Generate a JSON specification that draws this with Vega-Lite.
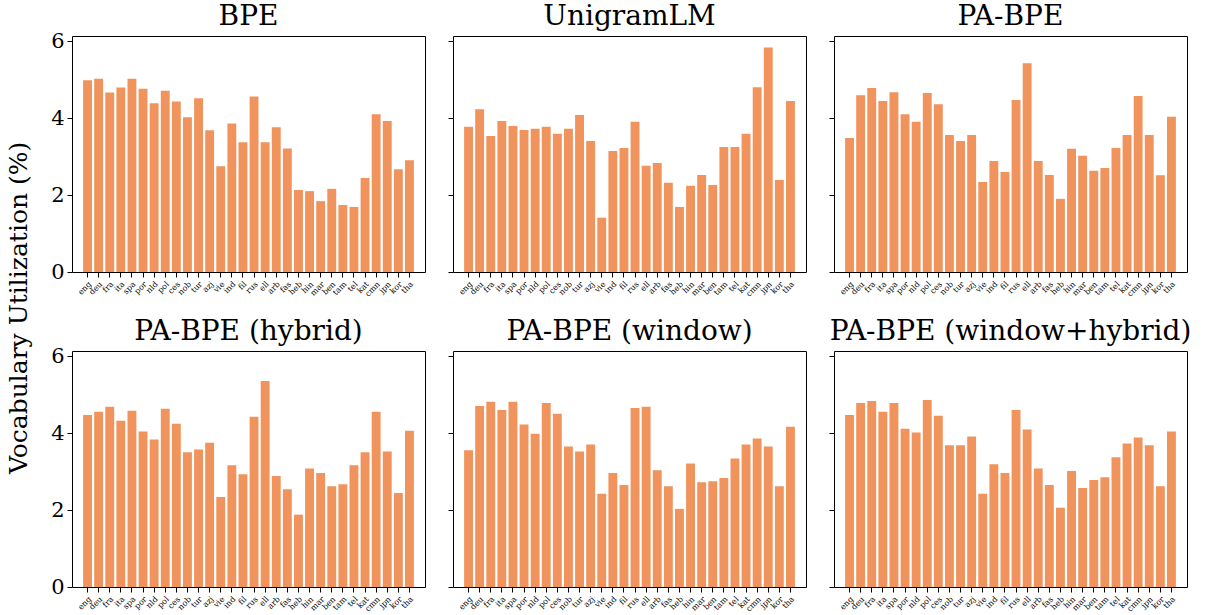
{
  "$schema": "https://vega.github.io/schema/vega-lite/v6.json",
  "padding": {"left": 7, "top": 2, "right": 5, "bottom": 5},
  "title": {"text": "Vocabulary Utilization (%)", "orient": "left", "anchor": "middle", "fontSize": 25, "font": "DejaVu Serif", "fontWeight": "normal", "color": "black", "offset": 18},
  "config": {
    "view": {"stroke": "black", "strokeWidth": 1},
    "font": "DejaVu Serif",
    "axis": {"grid": false, "domain": false, "tickColor": "black", "labelColor": "black", "tickSize": 5, "labelPadding": 3, "labelFont": "DejaVu Serif"},
    "title": {"fontSize": 28, "font": "DejaVu Serif", "fontWeight": "normal", "color": "black", "offset": 5, "baseline": "alphabetic"},
    "bar": {"color": "#f0935c"}
  },
  "data": {"values": [
    {"m":"BPE","l":"eng","v":4.98},{"m":"BPE","l":"deu","v":5.02},{"m":"BPE","l":"fra","v":4.66},{"m":"BPE","l":"ita","v":4.79},{"m":"BPE","l":"spa","v":5.02},{"m":"BPE","l":"por","v":4.76},{"m":"BPE","l":"nld","v":4.38},{"m":"BPE","l":"pol","v":4.71},{"m":"BPE","l":"ces","v":4.43},{"m":"BPE","l":"nob","v":4.02},{"m":"BPE","l":"tur","v":4.51},{"m":"BPE","l":"azj","v":3.68},{"m":"BPE","l":"vie","v":2.75},{"m":"BPE","l":"ind","v":3.86},{"m":"BPE","l":"fil","v":3.37},{"m":"BPE","l":"rus","v":4.56},{"m":"BPE","l":"ell","v":3.37},{"m":"BPE","l":"arb","v":3.76},{"m":"BPE","l":"fas","v":3.21},{"m":"BPE","l":"heb","v":2.13},{"m":"BPE","l":"hin","v":2.1},{"m":"BPE","l":"mar","v":1.84},{"m":"BPE","l":"ben","v":2.16},{"m":"BPE","l":"tam","v":1.74},{"m":"BPE","l":"tel","v":1.69},{"m":"BPE","l":"kat","v":2.44},{"m":"BPE","l":"cmn","v":4.1},{"m":"BPE","l":"jpn","v":3.92},{"m":"BPE","l":"kor","v":2.67},{"m":"BPE","l":"tha","v":2.9},
    {"m":"UnigramLM","l":"eng","v":3.77},{"m":"UnigramLM","l":"deu","v":4.23},{"m":"UnigramLM","l":"fra","v":3.53},{"m":"UnigramLM","l":"ita","v":3.92},{"m":"UnigramLM","l":"spa","v":3.79},{"m":"UnigramLM","l":"por","v":3.69},{"m":"UnigramLM","l":"nld","v":3.72},{"m":"UnigramLM","l":"pol","v":3.77},{"m":"UnigramLM","l":"ces","v":3.59},{"m":"UnigramLM","l":"nob","v":3.72},{"m":"UnigramLM","l":"tur","v":4.08},{"m":"UnigramLM","l":"azj","v":3.4},{"m":"UnigramLM","l":"vie","v":1.41},{"m":"UnigramLM","l":"ind","v":3.14},{"m":"UnigramLM","l":"fil","v":3.22},{"m":"UnigramLM","l":"rus","v":3.9},{"m":"UnigramLM","l":"ell","v":2.76},{"m":"UnigramLM","l":"arb","v":2.83},{"m":"UnigramLM","l":"fas","v":2.32},{"m":"UnigramLM","l":"heb","v":1.69},{"m":"UnigramLM","l":"hin","v":2.24},{"m":"UnigramLM","l":"mar","v":2.52},{"m":"UnigramLM","l":"ben","v":2.26},{"m":"UnigramLM","l":"tam","v":3.25},{"m":"UnigramLM","l":"tel","v":3.25},{"m":"UnigramLM","l":"kat","v":3.59},{"m":"UnigramLM","l":"cmn","v":4.8},{"m":"UnigramLM","l":"jpn","v":5.83},{"m":"UnigramLM","l":"kor","v":2.39},{"m":"UnigramLM","l":"tha","v":4.44},
    {"m":"PA-BPE","l":"eng","v":3.48},{"m":"PA-BPE","l":"deu","v":4.59},{"m":"PA-BPE","l":"fra","v":4.78},{"m":"PA-BPE","l":"ita","v":4.44},{"m":"PA-BPE","l":"spa","v":4.67},{"m":"PA-BPE","l":"por","v":4.1},{"m":"PA-BPE","l":"nld","v":3.9},{"m":"PA-BPE","l":"pol","v":4.65},{"m":"PA-BPE","l":"ces","v":4.36},{"m":"PA-BPE","l":"nob","v":3.56},{"m":"PA-BPE","l":"tur","v":3.4},{"m":"PA-BPE","l":"azj","v":3.56},{"m":"PA-BPE","l":"vie","v":2.34},{"m":"PA-BPE","l":"ind","v":2.88},{"m":"PA-BPE","l":"fil","v":2.6},{"m":"PA-BPE","l":"rus","v":4.47},{"m":"PA-BPE","l":"ell","v":5.42},{"m":"PA-BPE","l":"arb","v":2.88},{"m":"PA-BPE","l":"fas","v":2.52},{"m":"PA-BPE","l":"heb","v":1.9},{"m":"PA-BPE","l":"hin","v":3.2},{"m":"PA-BPE","l":"mar","v":3.02},{"m":"PA-BPE","l":"ben","v":2.63},{"m":"PA-BPE","l":"tam","v":2.7},{"m":"PA-BPE","l":"tel","v":3.22},{"m":"PA-BPE","l":"kat","v":3.56},{"m":"PA-BPE","l":"cmn","v":4.57},{"m":"PA-BPE","l":"jpn","v":3.56},{"m":"PA-BPE","l":"kor","v":2.51},{"m":"PA-BPE","l":"tha","v":4.03},
    {"m":"PA-BPE (hybrid)","l":"eng","v":4.47},{"m":"PA-BPE (hybrid)","l":"deu","v":4.55},{"m":"PA-BPE (hybrid)","l":"fra","v":4.68},{"m":"PA-BPE (hybrid)","l":"ita","v":4.32},{"m":"PA-BPE (hybrid)","l":"spa","v":4.58},{"m":"PA-BPE (hybrid)","l":"por","v":4.04},{"m":"PA-BPE (hybrid)","l":"nld","v":3.83},{"m":"PA-BPE (hybrid)","l":"pol","v":4.63},{"m":"PA-BPE (hybrid)","l":"ces","v":4.24},{"m":"PA-BPE (hybrid)","l":"nob","v":3.5},{"m":"PA-BPE (hybrid)","l":"tur","v":3.57},{"m":"PA-BPE (hybrid)","l":"azj","v":3.75},{"m":"PA-BPE (hybrid)","l":"vie","v":2.34},{"m":"PA-BPE (hybrid)","l":"ind","v":3.16},{"m":"PA-BPE (hybrid)","l":"fil","v":2.93},{"m":"PA-BPE (hybrid)","l":"rus","v":4.42},{"m":"PA-BPE (hybrid)","l":"ell","v":5.35},{"m":"PA-BPE (hybrid)","l":"arb","v":2.88},{"m":"PA-BPE (hybrid)","l":"fas","v":2.54},{"m":"PA-BPE (hybrid)","l":"heb","v":1.88},{"m":"PA-BPE (hybrid)","l":"hin","v":3.08},{"m":"PA-BPE (hybrid)","l":"mar","v":2.96},{"m":"PA-BPE (hybrid)","l":"ben","v":2.62},{"m":"PA-BPE (hybrid)","l":"tam","v":2.67},{"m":"PA-BPE (hybrid)","l":"tel","v":3.16},{"m":"PA-BPE (hybrid)","l":"kat","v":3.5},{"m":"PA-BPE (hybrid)","l":"cmn","v":4.55},{"m":"PA-BPE (hybrid)","l":"jpn","v":3.52},{"m":"PA-BPE (hybrid)","l":"kor","v":2.44},{"m":"PA-BPE (hybrid)","l":"tha","v":4.06},
    {"m":"PA-BPE (window)","l":"eng","v":3.55},{"m":"PA-BPE (window)","l":"deu","v":4.7},{"m":"PA-BPE (window)","l":"fra","v":4.81},{"m":"PA-BPE (window)","l":"ita","v":4.6},{"m":"PA-BPE (window)","l":"spa","v":4.81},{"m":"PA-BPE (window)","l":"por","v":4.22},{"m":"PA-BPE (window)","l":"nld","v":3.98},{"m":"PA-BPE (window)","l":"pol","v":4.78},{"m":"PA-BPE (window)","l":"ces","v":4.5},{"m":"PA-BPE (window)","l":"nob","v":3.65},{"m":"PA-BPE (window)","l":"tur","v":3.52},{"m":"PA-BPE (window)","l":"azj","v":3.7},{"m":"PA-BPE (window)","l":"vie","v":2.42},{"m":"PA-BPE (window)","l":"ind","v":2.96},{"m":"PA-BPE (window)","l":"fil","v":2.65},{"m":"PA-BPE (window)","l":"rus","v":4.65},{"m":"PA-BPE (window)","l":"ell","v":4.68},{"m":"PA-BPE (window)","l":"arb","v":3.03},{"m":"PA-BPE (window)","l":"fas","v":2.62},{"m":"PA-BPE (window)","l":"heb","v":2.03},{"m":"PA-BPE (window)","l":"hin","v":3.21},{"m":"PA-BPE (window)","l":"mar","v":2.72},{"m":"PA-BPE (window)","l":"ben","v":2.75},{"m":"PA-BPE (window)","l":"tam","v":2.83},{"m":"PA-BPE (window)","l":"tel","v":3.34},{"m":"PA-BPE (window)","l":"kat","v":3.7},{"m":"PA-BPE (window)","l":"cmn","v":3.86},{"m":"PA-BPE (window)","l":"jpn","v":3.65},{"m":"PA-BPE (window)","l":"kor","v":2.62},{"m":"PA-BPE (window)","l":"tha","v":4.16},
    {"m":"PA-BPE (window+hybrid)","l":"eng","v":4.47},{"m":"PA-BPE (window+hybrid)","l":"deu","v":4.78},{"m":"PA-BPE (window+hybrid)","l":"fra","v":4.83},{"m":"PA-BPE (window+hybrid)","l":"ita","v":4.55},{"m":"PA-BPE (window+hybrid)","l":"spa","v":4.78},{"m":"PA-BPE (window+hybrid)","l":"por","v":4.11},{"m":"PA-BPE (window+hybrid)","l":"nld","v":4.01},{"m":"PA-BPE (window+hybrid)","l":"pol","v":4.86},{"m":"PA-BPE (window+hybrid)","l":"ces","v":4.45},{"m":"PA-BPE (window+hybrid)","l":"nob","v":3.68},{"m":"PA-BPE (window+hybrid)","l":"tur","v":3.68},{"m":"PA-BPE (window+hybrid)","l":"azj","v":3.91},{"m":"PA-BPE (window+hybrid)","l":"vie","v":2.42},{"m":"PA-BPE (window+hybrid)","l":"ind","v":3.19},{"m":"PA-BPE (window+hybrid)","l":"fil","v":2.96},{"m":"PA-BPE (window+hybrid)","l":"rus","v":4.6},{"m":"PA-BPE (window+hybrid)","l":"ell","v":4.09},{"m":"PA-BPE (window+hybrid)","l":"arb","v":3.08},{"m":"PA-BPE (window+hybrid)","l":"fas","v":2.65},{"m":"PA-BPE (window+hybrid)","l":"heb","v":2.06},{"m":"PA-BPE (window+hybrid)","l":"hin","v":3.01},{"m":"PA-BPE (window+hybrid)","l":"mar","v":2.57},{"m":"PA-BPE (window+hybrid)","l":"ben","v":2.78},{"m":"PA-BPE (window+hybrid)","l":"tam","v":2.85},{"m":"PA-BPE (window+hybrid)","l":"tel","v":3.37},{"m":"PA-BPE (window+hybrid)","l":"kat","v":3.73},{"m":"PA-BPE (window+hybrid)","l":"cmn","v":3.88},{"m":"PA-BPE (window+hybrid)","l":"jpn","v":3.68},{"m":"PA-BPE (window+hybrid)","l":"kor","v":2.62},{"m":"PA-BPE (window+hybrid)","l":"tha","v":4.04}
  ]},
  "vconcat": [
    {"hconcat": [
      {"width": 353, "height": 236, "title": {"text": "BPE", "offset": -1}, "transform": [{"filter": "datum.m == 'BPE'"}], "mark": "bar",
       "encoding": {"x": {"field": "l", "type": "nominal", "sort": null, "title": null, "scale": {"paddingInner": 0.2, "paddingOuter": 1.45}, "axis": {"labelAngle": -45, "labelFontSize": 8}},
                    "y": {"field": "v", "type": "quantitative", "title": null, "scale": {"domain": [0, 6.13], "nice": false}, "axis": {"values": [0, 2, 4, 6], "labelFontSize": 21}}}},
      {"width": 353, "height": 236, "title": "UnigramLM", "transform": [{"filter": "datum.m == 'UnigramLM'"}], "mark": "bar",
       "encoding": {"x": {"field": "l", "type": "nominal", "sort": null, "title": null, "scale": {"paddingInner": 0.2, "paddingOuter": 1.45}, "axis": {"labelAngle": -45, "labelFontSize": 8}},
                    "y": {"field": "v", "type": "quantitative", "title": null, "scale": {"domain": [0, 6.13], "nice": false}, "axis": {"values": [0, 2, 4, 6], "labels": false}}}},
      {"width": 353, "height": 236, "title": "PA-BPE", "transform": [{"filter": "datum.m == 'PA-BPE'"}], "mark": "bar",
       "encoding": {"x": {"field": "l", "type": "nominal", "sort": null, "title": null, "scale": {"paddingInner": 0.2, "paddingOuter": 1.45}, "axis": {"labelAngle": -45, "labelFontSize": 8}},
                    "y": {"field": "v", "type": "quantitative", "title": null, "scale": {"domain": [0, 6.13], "nice": false}, "axis": {"values": [0, 2, 4, 6], "labels": false}}}}
    ], "spacing": 21},
    {"hconcat": [
      {"width": 353, "height": 236, "title": {"text": "PA-BPE (hybrid)", "offset": -1}, "transform": [{"filter": "datum.m == 'PA-BPE (hybrid)'"}], "mark": "bar",
       "encoding": {"x": {"field": "l", "type": "nominal", "sort": null, "title": null, "scale": {"paddingInner": 0.2, "paddingOuter": 1.45}, "axis": {"labelAngle": -45, "labelFontSize": 8}},
                    "y": {"field": "v", "type": "quantitative", "title": null, "scale": {"domain": [0, 6.13], "nice": false}, "axis": {"values": [0, 2, 4, 6], "labelFontSize": 21}}}},
      {"width": 353, "height": 236, "title": "PA-BPE (window)", "transform": [{"filter": "datum.m == 'PA-BPE (window)'"}], "mark": "bar",
       "encoding": {"x": {"field": "l", "type": "nominal", "sort": null, "title": null, "scale": {"paddingInner": 0.2, "paddingOuter": 1.45}, "axis": {"labelAngle": -45, "labelFontSize": 8}},
                    "y": {"field": "v", "type": "quantitative", "title": null, "scale": {"domain": [0, 6.13], "nice": false}, "axis": {"values": [0, 2, 4, 6], "labels": false}}}},
      {"width": 353, "height": 236, "title": "PA-BPE (window+hybrid)", "transform": [{"filter": "datum.m == 'PA-BPE (window+hybrid)'"}], "mark": "bar",
       "encoding": {"x": {"field": "l", "type": "nominal", "sort": null, "title": null, "scale": {"paddingInner": 0.2, "paddingOuter": 1.45}, "axis": {"labelAngle": -45, "labelFontSize": 8}},
                    "y": {"field": "v", "type": "quantitative", "title": null, "scale": {"domain": [0, 6.13], "nice": false}, "axis": {"values": [0, 2, 4, 6], "labels": false}}}}
    ], "spacing": 21}
  ],
  "spacing": 18
}
